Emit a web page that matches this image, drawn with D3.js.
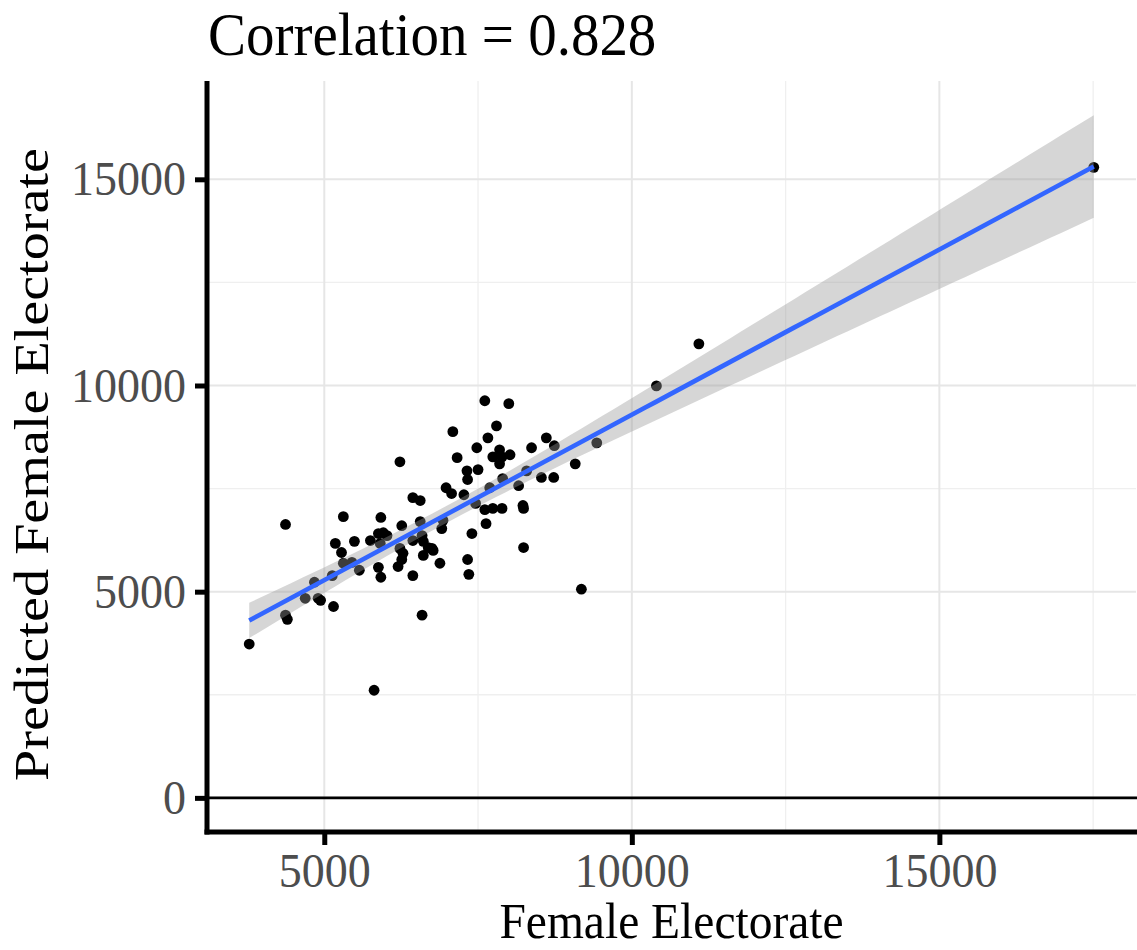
<!DOCTYPE html>
<html>
<head>
<meta charset="utf-8">
<script src="https://cdn.jsdelivr.net/npm/d3@7"></script>
<style>
  html, body { margin: 0; padding: 0; background: #fff; }
  svg { display: block; }
</style>
</head>
<body>
<div id="chart"></div>
<script>
// values
const femaleElectorate = [
  3780, 4370, 4370, 4400, 4690, 4840, 4900, 4940, 5130, 5150,
  5180, 5280, 5310, 5310, 5450, 5490, 5570, 5750, 5810, 5880,
  5960, 6020, 5910, 5880, 5920, 5920, 6230, 6200, 6260, 6230,
  6280, 6260, 6440, 6440, 6560, 6560, 6440, 6590, 6610, 6690,
  6750, 6610, 6590, 6770, 6880, 6910, 6930, 6980, 7070, 7090,
  7160, 7270, 7320, 7330, 7330, 7350, 7400, 7460, 7480, 7500,
  7610, 7660, 7800, 7610, 7630, 7740, 7890, 7690, 7850, 7740,
  7890, 8020, 7850, 7900, 8000, 8160, 8230, 8240, 8240, 8290,
  8370, 8530, 8730, 8610, 8740, 9080, 9430, 9180, 10400, 11090,
  17510
]
const predictedElectorate = [
  3730, 6630, 4430, 4330, 4840, 5230, 4840, 4790, 5390, 4640,
  6170, 5950, 6820, 5690, 5710, 6220, 5520, 6240, 2610, 6410,
  6430, 6360, 6170, 5590, 5350, 6800, 8150, 5610, 5780, 6050,
  5930, 6600, 5390, 7280, 7210, 6700, 6240, 6360, 6220, 6070,
  6050, 5880, 4430, 6000, 5690, 6530, 6730, 7520, 7380, 8880,
  8250, 7350, 7930, 7720, 5780, 5420, 6410, 7140, 8490, 7960,
  9630, 8730, 9020, 6990, 6650, 7020, 7020, 7520, 8440, 8270,
  8270, 8320, 8100, 7740, 9560, 7570, 7090, 7020, 6070, 7930,
  8490, 7770, 7770, 8730, 8540, 8100, 8610, 5060, 9990, 11010,
  15290
]
const xTicks = [5000, 10000, 15000]
const xMinor = [7500, 12500, 17500]
const yTicks = [0, 5000, 10000, 15000]
const yMinor = [2500, 7500, 12500]
const titleText = 'Correlation = 0.828'
const xTitle = 'Female Electorate'
const yTitle = 'Predicted Female Electorate'
const tCrit = 1.987 // qt(0.975, n - 2)

const W = 1137, H = 950
const panel = {left: 207, right: 1136, top: 81, bottom: 832}
const FONT = '"Liberation Serif", "Times New Roman", serif'
const STRETCH = 1.06

const points = femaleElectorate.map((x, i) => ({x, y: predictedElectorate[i]}))

// lm fit + 95% band, the way geom_smooth(method = "lm") does it
function linearFit(data){
  const n = data.length
  const mx = d3.mean(data, d => d.x)
  const my = d3.mean(data, d => d.y)
  let sxx = 0, sxy = 0
  data.forEach(d => { sxx += (d.x - mx) ** 2; sxy += (d.x - mx) * (d.y - my) })
  const slope = sxy / sxx
  const intercept = my - slope * mx
  const sse = d3.sum(data, d => (d.y - intercept - slope * d.x) ** 2)
  const s = Math.sqrt(sse / (n - 2))
  const [x0, x1] = d3.extent(data, d => d.x)
  const grid = d3.range(80).map(i => x0 + (x1 - x0) * i / 79)
  return grid.map(x => {
    const fit = intercept + slope * x
    const se = s * Math.sqrt(1 / n + (x - mx) ** 2 / sxx)
    return {x, fit, lo: fit - tCrit * se, hi: fit + tCrit * se}
  })
}
const band = linearFit(points)

function expand([a, b], m = 0.05){
  const d = (b - a) * m
  return [a - d, b + d]
}

const xScale = d3.scaleLinear()
  .domain(expand(d3.extent(femaleElectorate)))
  .range([panel.left, panel.right])
const yScale = d3.scaleLinear()
  .domain(expand([Math.min(0, d3.min(band, d => d.lo)), d3.max(band, d => d.hi)]))
  .range([panel.bottom, panel.top])

const svg = d3.select('#chart').append('svg')
  .attr('width', W).attr('height', H)
  .attr('font-family', FONT)

// grid
const grid = svg.append('g')
grid.selectAll('.xminor').data(xMinor).join('line')
  .attr('x1', d => xScale(d)).attr('x2', d => xScale(d))
  .attr('y1', panel.top).attr('y2', panel.bottom)
  .attr('stroke', '#efefef').attr('stroke-width', 1.3)
grid.selectAll('.yminor').data(yMinor).join('line')
  .attr('y1', d => yScale(d)).attr('y2', d => yScale(d))
  .attr('x1', panel.left).attr('x2', panel.right)
  .attr('stroke', '#efefef').attr('stroke-width', 1.3)
grid.selectAll('.xmajor').data(xTicks).join('line')
  .attr('x1', d => xScale(d)).attr('x2', d => xScale(d))
  .attr('y1', panel.top).attr('y2', panel.bottom)
  .attr('stroke', '#e6e6e6').attr('stroke-width', 2)
grid.selectAll('.ymajor').data(yTicks).join('line')
  .attr('y1', d => yScale(d)).attr('y2', d => yScale(d))
  .attr('x1', panel.left).attr('x2', panel.right)
  .attr('stroke', '#e6e6e6').attr('stroke-width', 2)

// points
svg.append('g').selectAll('circle').data(points).join('circle')
  .attr('cx', d => xScale(d.x)).attr('cy', d => yScale(d.y))
  .attr('r', 5.4).attr('fill', '#000')

// confidence band + fitted line
svg.append('path').datum(band)
  .attr('d', d3.area().x(d => xScale(d.x)).y0(d => yScale(d.lo)).y1(d => yScale(d.hi)))
  .attr('fill', '#999999').attr('fill-opacity', 0.4)
svg.append('path').datum(band)
  .attr('d', d3.line().x(d => xScale(d.x)).y(d => yScale(d.fit)))
  .attr('fill', 'none').attr('stroke', '#3366FF').attr('stroke-width', 4.6)

// hline at 0
svg.append('line')
  .attr('x1', panel.left).attr('x2', W)
  .attr('y1', yScale(0)).attr('y2', yScale(0))
  .attr('stroke', '#000').attr('stroke-width', 2.8)

// axes
const xAxis = svg.append('g')
  .attr('transform', `translate(0,${panel.bottom})`)
  .call(d3.axisBottom(xScale).tickValues(xTicks).tickFormat(d3.format('d')).tickSize(13).tickSizeOuter(0).tickPadding(6))
const yAxis = svg.append('g')
  .attr('transform', `translate(${panel.left},0)`)
  .call(d3.axisLeft(yScale).tickValues(yTicks).tickFormat(d3.format('d')).tickSize(12).tickSizeOuter(0).tickPadding(9))

for (const ax of [xAxis, yAxis]) {
  ax.select('.domain').attr('stroke', '#000').attr('stroke-width', 5)
  ax.selectAll('.tick line').attr('stroke', '#000').attr('stroke-width', 5)
  ax.selectAll('.tick text')
    .attr('font-family', FONT).attr('font-size', 46).attr('fill', '#4d4d4d')
}
xAxis.select('.domain').attr('d', `M${panel.left - 2.5},0H${W}`)
yAxis.select('.domain').attr('d', `M0,${panel.top}V${panel.bottom + 2.5}`)
xAxis.selectAll('.tick text').attr('dy', 0).attr('y', 51.5)
  .attr('transform', `scale(1,${STRETCH})`)
yAxis.selectAll('.tick text')
  .attr('transform', function(){ return `translate(0,0) scale(1,${STRETCH})` })

// titles
svg.append('text')
  .attr('transform', `translate(${panel.left + 1},55) scale(1,${STRETCH})`)
  .attr('font-size', 57).attr('fill', '#000')
  .text(titleText)
svg.append('text')
  .attr('transform', `translate(${(panel.left + panel.right) / 2},938) scale(1,${STRETCH})`)
  .attr('text-anchor', 'middle').attr('font-size', 47.5).attr('fill', '#000')
  .text(xTitle)
svg.append('text')
  .attr('transform', `translate(48,${(panel.top + panel.bottom) / 2 + 8}) scale(1,1.17) rotate(-90)`)
  .attr('text-anchor', 'middle').attr('font-size', 48).attr('fill', '#000')
  .text(yTitle)
</script>
</body>
</html>
